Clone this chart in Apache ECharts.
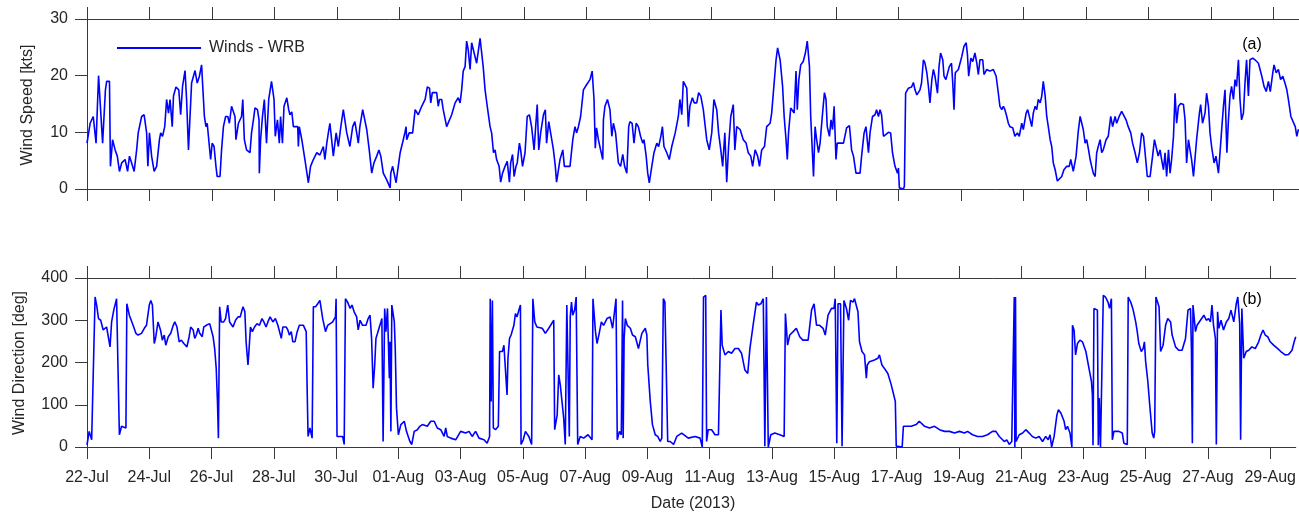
<!DOCTYPE html>
<html><head><meta charset="utf-8">
<script src="https://cdn.jsdelivr.net/npm/echarts@6/dist/echarts.min.js"></script>
<style>html,body{margin:0;padding:0;background:#fff}#c{width:1299px;height:516px}</style>
</head><body><div id="c"></div>
<script>
// x values are days since 22-Jul-2013 00:00
const tickDays = [0,2,4,6,8,10,12,14,16,18,20,22,24,26,28,30,32,34,36,38];
const tickLabels = ['22-Jul','24-Jul','26-Jul','28-Jul','30-Jul','01-Aug','03-Aug','05-Aug','07-Aug','09-Aug','11-Aug','13-Aug','15-Aug','17-Aug','19-Aug','21-Aug','23-Aug','25-Aug','27-Aug','29-Aug'];
const speedTicks = [0,10,20,30];
const dirTicks = [0,100,200,300,400];

const speedDay = [
0,0.10,0.20,0.29,0.37,0.50,0.59,0.63,0.72,0.75,
0.82,0.90,0.97,1.04,1.11,1.22,1.30,1.36,1.43,1.51,
1.59,1.64,1.75,1.83,1.86,1.91,1.95,2.00,2.07,2.15,
2.23,2.32,2.36,2.42,2.49,2.55,2.61,2.66,2.73,2.77,
2.85,2.94,3.00,3.06,3.14,3.19,3.25,3.35,3.46,3.53,
3.60,3.67,3.73,3.76,3.81,3.85,3.92,3.96,4.01,4.07,
4.13,4.17,4.26,4.31,4.37,4.44,4.51,4.56,4.63,4.69,
4.74,4.77,4.85,4.95,4.99,5.04,5.11,5.22,5.27,5.33,
5.38,5.46,5.51,5.52,5.56,5.62,5.68,5.75,5.82,5.91,
5.99,6.03,6.10,6.16,6.20,6.26,6.31,6.40,6.46,6.50,
6.56,6.61,6.75,6.77,6.80,6.88,6.98,7.09,7.16,7.25,
7.36,7.46,7.57,7.62,7.68,7.73,7.78,7.89,7.98,8.05,
8.13,8.21,8.32,8.42,8.51,8.58,8.69,8.74,8.83,8.88,
8.96,9.04,9.12,9.19,9.28,9.35,9.41,9.49,9.60,9.71,
9.73,9.79,9.85,9.90,9.94,10.03,10.13,10.18,10.22,10.24,
10.32,10.43,10.51,10.61,10.72,10.83,10.90,10.97,11.01,11.06,
11.20,11.25,11.29,
11.36,11.41,11.52,11.57,11.68,11.79,11.89,11.95,12.00,12.05,
12.11,12.16,12.21,12.27,12.32,12.40,12.48,12.53,12.59,12.62,
12.69,12.75,12.82,12.91,12.96,13.02,13.07,13.12,13.20,13.25,
13.31,13.39,13.46,13.53,13.57,13.63,13.68,13.74,13.78,13.85,
13.89,13.95,14.03,14.10,14.17,14.24,14.32,14.38,14.42,14.47,
14.53,14.62,14.68,14.72,14.79,14.85,14.94,15.00,15.04,15.15,
15.24,15.29,15.36,15.47,15.56,15.63,15.68,15.74,15.81,15.90,
16.00,16.11,16.18,16.24,16.28,16.32,16.38,16.45,16.52,16.54,
16.59,16.67,16.75,16.81,16.86,16.93,17.02,17.09,17.16,17.22,
17.29,17.35,17.39,17.46,17.52,17.59,17.66,17.73,17.80,17.84,
17.91,17.96,18.01,18.09,18.16,18.25,18.31,18.38,18.43,18.48,
18.57,18.65,18.73,18.84,18.94,18.99,19.05,19.10,19.15,19.21,
19.26,19.31,19.39,19.45,19.53,19.59,19.66,19.74,19.85,19.93,
20.01,20.08,20.17,20.23,20.30,20.36,20.43,20.49,20.55,20.62,
20.70,20.75,20.81,20.92,21.02,21.11,21.18,21.26,21.32,21.40,
21.48,21.54,21.61,21.70,21.77,21.88,21.93,22.00,22.07,22.12,
22.20,22.28,22.33,22.39,22.43,22.47,22.54,22.60,22.65,22.71,
22.75,22.80,22.86,22.94,23.01,23.07,23.14,23.18,23.22,23.27,
23.32,23.37,23.43,23.48,23.56,23.62,23.67,23.71,23.78,23.83,
23.88,23.93,23.99,24.03,24.23,24.33,24.42,24.49,24.55,24.63,
24.76,24.81,24.89,24.95,25.03,
25.08,25.16,25.24,25.29,25.35,25.40,25.45,25.51,25.56,25.67,
25.74,25.80,25.88,25.96,25.99,26.02,26.06,26.15,26.18,26.22,
26.31,26.41,26.47,26.52,26.58,26.63,26.68,26.73,26.79,26.84,
26.90,26.95,27.00,27.06,27.11,27.16,27.24,27.29,27.34,27.41,
27.45,27.51,27.56,27.62,27.69,27.73,27.77,27.81,27.86,27.91,
27.96,28.02,28.09,28.16,28.20,28.24,28.31,28.37,28.44,28.50,
28.55,28.60,28.69,28.73,28.82,28.92,29.03,29.12,29.19,29.24,
29.30,29.35,29.40,29.46,29.51,29.56,29.65,29.72,29.80,29.86,
29.94,29.99,30.08,30.13,30.21,30.26,30.31,30.37,30.42,30.47,
30.53,30.58,30.63,30.69,30.74,30.79,30.85,30.90,30.95,31.01,
31.08,31.14,31.22,31.29,31.38,31.46,31.51,31.59,31.68,31.75,
31.81,31.86,31.91,31.97,32.02,32.08,32.13,32.18,32.23,32.29,
32.34,32.39,32.45,32.50,32.55,32.64,32.71,32.79,32.85,32.93,
32.98,33.06,33.14,33.20,33.28,33.35,33.43,33.49,33.57,33.64,
33.71,33.78,33.84,33.89,33.96,34.05,34.13,34.19,34.24,34.31,
34.37,34.42,34.48,34.53,34.58,34.64,34.69,34.74,34.80,34.85,
34.90,34.96,35.03,35.12,35.17,35.22,35.28,35.33,35.38,35.44,
35.54,35.63,35.67,35.73,35.81,35.86,35.92,35.97,36.02,36.10,
36.16,36.24,36.29,36.35,36.40,36.45,36.51,36.56,36.61,36.66,
36.72,36.77,36.82,36.88,36.93,36.98,37.04,37.09,37.14,37.20,
37.25,37.34,37.41,37.52,37.63,37.70,37.77,37.84,37.90,37.98,
38.02,38.09,38.16,38.23,38.30,38.37,38.43,38.48,38.56,38.62,
38.70,38.75,38.80,38.82
];
const speedKts = [
8.1,11.6,12.8,8.1,20.0,8.1,17.5,19.0,19.0,4.0,
8.7,6.9,5.8,3.1,4.6,5.2,3.1,5.8,4.6,3.1,
6.9,9.9,12.8,13.1,12.8,9.9,4.0,9.9,5.8,3.1,
4.0,8.7,9.9,9.3,11.0,15.8,13.4,15.8,11.0,16.4,
18.0,17.5,13.1,18.1,20.9,15.8,6.9,18.7,20.9,18.7,
19.9,21.9,21.6,12.8,11.0,11.6,7.5,5.2,8.1,7.5,
4.0,2.2,2.2,6.9,11.0,12.8,12.8,11.6,14.6,14.9,
12.8,8.7,11.6,12.8,15.8,8.7,6.9,6.4,9.9,12.2,
14.3,14.0,12.2,2.8,8.7,12.8,15.8,8.1,15.8,19.0,
15.8,9.3,12.2,8.1,12.8,8.1,14.6,16.1,14.0,13.1,
13.6,11.0,11.0,7.5,11.0,8.7,5.2,1.1,4.0,5.2,
6.4,6.0,7.5,5.2,8.1,9.9,11.6,5.8,9.9,7.5,
11.0,14.0,9.9,7.5,11.0,11.9,8.1,11.0,14.0,14.0,
10.5,6.9,2.8,4.6,5.8,6.9,5.8,2.8,1.6,0.2,
2.8,4.0,4.0,1.1,2.8,6.4,8.7,9.9,11.0,8.7,
9.9,9.9,14.0,13.1,14.6,15.8,18.0,17.8,15.2,17.0,
17.0,14.6,15.8,
15.8,14.0,11.0,11.1,13.1,15.2,16.1,15.2,17.5,20.8,
21.6,26.1,24.6,21.1,25.8,24.0,22.2,21.9,26.6,26.8,
21.6,17.5,14.6,11.0,9.9,6.4,6.9,5.2,4.0,1.2,
2.8,4.0,4.9,1.2,4.6,6.1,2.2,4.0,4.6,8.1,
6.9,4.0,6.4,12.8,13.1,11.0,6.9,6.9,14.9,6.9,
9.9,13.1,14.0,8.1,11.9,9.9,6.9,4.0,1.2,5.2,
6.9,4.0,4.0,4.0,8.7,11.0,9.9,11.0,12.8,17.5,
18.4,19.3,20.8,15.8,7.2,10.8,8.7,6.9,5.2,12.2,
14.6,15.8,14.0,9.3,11.6,9.9,4.6,4.0,6.1,4.0,
2.8,11.0,11.9,11.6,8.1,11.6,11.0,9.3,8.1,8.7,
5.8,2.8,1.1,4.0,6.4,8.1,7.5,9.3,11.0,7.5,
6.4,5.2,7.5,9.9,12.8,15.8,13.1,19.0,18.7,17.8,
11.0,14.6,16.1,15.2,15.2,17.0,16.4,14.0,8.7,6.9,
9.9,15.8,14.0,9.9,6.9,4.0,9.9,1.2,7.5,12.8,
14.9,6.9,11.0,10.5,8.7,8.1,6.4,5.8,4.0,6.9,
5.8,4.0,6.9,7.5,11.0,11.6,13.4,18.1,22.8,24.9,
22.8,18.1,12.8,8.7,5.2,9.9,14.3,14.6,13.4,20.8,
14.0,19.3,21.9,22.5,24.0,26.1,21.6,12.8,8.1,2.2,
11.0,8.7,6.4,8.1,13.4,17.0,15.8,11.0,9.3,12.2,
10.5,14.6,5.2,8.1,8.1,10.8,11.2,6.9,5.8,2.8,
2.8,5.8,9.9,11.0,6.4,
9.9,12.8,13.1,14.0,12.8,14.0,13.1,9.3,9.0,10.0,
9.9,6.4,4.0,2.8,3.7,0.2,0,0,0.5,16.9,
17.8,18.0,18.8,17.5,16.6,16.4,17.5,18.7,22.8,22.2,
20.5,18.1,15.2,19.3,21.1,19.9,16.9,21.6,24.0,22.8,
19.9,19.3,19.6,21.6,22.2,18.7,14.0,20.5,20.2,21.1,
21.4,23.4,25.2,25.8,23.7,19.9,23.1,22.5,24.0,22.2,
20.2,22.8,22.8,20.2,21.1,20.8,21.1,19.9,16.9,14.6,
14.0,14.6,14.0,12.8,11.6,11.0,10.8,9.3,9.9,9.3,
11.6,10.5,13.4,14.0,12.2,11.0,13.4,14.6,14.0,15.8,
15.2,16.4,19.0,16.4,12.8,11.0,8.7,7.5,4.6,3.4,
1.4,1.1,2.2,3.4,4.0,4.0,5.2,3.1,5.8,10.2,
12.8,12.5,10.5,8.1,8.7,6.9,5.2,4.0,2.8,2.2,
6.4,7.5,8.7,6.4,6.9,8.7,9.3,12.8,11.0,12.8,
11.6,12.8,13.7,14.0,12.2,11.0,9.9,8.1,6.4,4.6,
6.4,9.9,9.3,6.4,2.2,2.2,5.8,8.7,7.5,5.8,
6.9,5.2,3.4,6.4,2.2,6.9,2.8,5.2,9.3,16.9,
11.6,14.6,15.1,14.9,12.2,4.6,8.7,6.9,5.2,2.2,
8.7,13.4,14.9,11.6,13.4,16.9,14.6,9.9,7.5,4.6,
5.8,2.8,6.4,11.0,14.6,17.5,6.4,12.2,16.4,18.1,
15.8,19.3,18.1,22.8,15.8,12.2,13.4,18.7,22.8,16.4,
22.8,23.1,22.8,22.2,19.9,18.1,17.2,19.0,17.2,20.5,
21.9,20.5,21.1,19.3,19.9,18.7,17.5,15.8,12.8,13.1,
11.0,9.3,10.5,10.2
];

const dirDay = [
0.00,0.07,0.15,0.20,0.26,0.31,0.37,0.44,0.47,0.52,
0.63,0.68,0.74,0.79,0.86,0.95,1.00,1.04,1.11,1.16,
1.25,1.28,1.36,1.41,1.48,1.57,1.64,1.75,1.84,1.91,
2.00,2.05,2.10,2.16,2.21,2.28,2.36,2.42,2.48,2.53,
2.61,2.69,2.77,2.82,2.89,2.96,3.03,3.11,3.17,3.21,
3.28,3.33,3.41,3.46,3.51,3.57,3.62,3.70,3.75,3.83,
3.94,3.99,4.05,4.10,4.15,4.19,4.22,4.26,4.31,4.39,
4.45,4.52,4.58,4.69,4.77,4.85,4.92,5.01,5.07,5.11,
5.17,5.20,5.25,5.31,5.38,5.46,5.54,5.62,5.68,5.75,
5.81,5.88,5.97,6.05,6.13,6.18,6.24,6.29,6.34,6.40,
6.45,6.50,6.56,6.61,6.68,6.75,6.82,6.95,7.04,7.07,
7.10,7.16,7.23,7.27,7.34,7.41,7.48,7.57,7.66,7.73,
7.89,7.98,8.00,8.03,8.21,8.26,8.30,8.37,8.45,8.51,
8.58,8.66,8.71,8.77,8.85,8.96,9.03,9.09,9.14,9.19,
9.24,9.28,9.33,9.39,9.44,9.47,9.51,9.56,9.60,9.65,
9.71,9.73,9.76,9.79,9.87,9.90,9.94,9.97,10.00,10.08,
10.19,10.26,10.37,10.43,10.51,10.61,10.69,10.77,10.93,11.04,
11.15,11.25,
11.36,11.47,11.52,11.57,11.68,11.84,12.00,12.16,12.27,12.37,
12.48,12.59,12.75,12.85,12.93,12.95,12.98,13.02,13.05,13.12,
13.21,13.25,13.28,13.34,13.39,13.44,13.49,13.52,13.57,13.62,
13.71,13.76,13.81,13.87,13.92,13.94,14.01,14.08,14.19,14.28,
14.32,14.38,14.45,14.62,14.72,14.83,14.99,15.02,15.10,15.15,
15.20,15.31,15.36,15.41,15.45,15.49,15.52,15.56,15.60,15.66,
15.71,15.76,15.84,15.95,16.09,16.22,16.25,16.33,16.38,16.45,
16.52,16.59,16.70,16.80,16.88,16.91,16.99,17.03,17.10,17.16,
17.20,17.22,17.25,17.29,17.35,17.45,17.52,17.61,17.71,17.82,
17.93,17.98,18.01,18.09,18.16,18.25,18.33,18.41,18.46,18.51,
18.56,18.62,18.65,18.73,18.84,18.94,19.10,19.31,19.53,19.69,
19.76,19.80,19.87,19.90,19.95,20.06,20.17,20.28,20.33,20.36,
20.40,20.49,20.60,20.70,20.81,20.92,21.02,21.13,21.22,21.29,
21.40,21.50,21.56,21.64,21.72,21.77,21.82,21.88,21.96,22.09,
22.25,22.39,22.43,22.50,22.57,22.68,22.78,22.89,22.99,23.16,
23.27,23.35,23.43,23.53,23.64,23.71,23.80,23.91,23.99,24.03,
24.08,24.12,24.20,24.25,24.31,24.39,24.46,24.52,24.60,24.65,
24.76,24.81,24.89,24.97,25.03,25.06,25.13,25.29,25.40,25.45,
25.53,25.61,25.72,25.83,25.91,25.96,25.99,26.04,26.18,26.22,
26.31,26.47,26.63,26.73,26.90,27.06,27.22,27.38,27.54,27.70,
27.86,28.02,28.18,28.28,28.44,28.60,28.76,28.92,29.08,29.19,
29.30,29.46,29.54,29.62,29.70,29.78,29.80,29.82,29.84,29.94,
30.05,30.15,30.26,30.36,30.47,30.58,30.69,30.79,30.87,30.93,
30.98,31.06,31.15,31.20,31.28,31.38,31.43,31.49,31.57,31.63,
31.65,31.70,31.75,31.81,31.89,31.97,32.08,32.18,32.26,32.29,
32.31,32.34,32.39,32.45,32.48,32.51,32.55,32.61,32.64,32.71,
32.79,32.84,32.90,32.93,32.98,33.14,33.25,33.30,33.41,33.44,
33.52,33.60,33.68,33.73,33.78,33.86,33.92,33.96,34.00,34.07,
34.13,34.21,34.26,34.29,34.33,34.39,34.43,34.48,34.56,34.64,
34.71,34.80,34.85,34.96,35.06,35.17,35.28,35.36,35.44,35.47,
35.50,35.52,35.60,35.65,35.76,35.87,35.95,36.02,36.08,36.13,
36.18,36.24,36.27,36.31,36.35,36.42,36.50,36.59,36.67,36.74,
36.83,36.91,36.96,37.02,37.05,37.09,37.15,37.23,37.31,37.41,
37.52,37.63,37.70,37.77,37.84,37.92,38.00,38.11,38.24,38.34,
38.48,38.59,38.70,38.77,38.82
];
const dirDeg = [
5,37,17,13,355,336,304,300,296,277,
284,281,237,296,324,351,351,29,49,53,
45,339,312,308,288,269,265,269,281,288,
336,347,336,245,261,296,277,253,265,241,
261,269,288,296,284,249,253,245,245,237,
261,284,277,257,265,281,269,261,284,288,
292,288,261,233,186,108,21,332,296,296,
304,336,296,284,300,308,308,332,320,249,
194,226,284,273,284,292,288,304,296,284,
296,308,296,304,288,284,257,284,288,284,
277,265,273,249,249,273,288,288,273,139,
25,45,21,332,332,339,347,304,273,288,
296,308,351,25,25,6,351,343,328,336,
320,308,277,300,288,288,304,312,257,139,
194,257,269,284,296,304,13,328,273,328,
163,249,37,336,296,233,92,61,29,53,
61,37,13,6,37,41,49,53,49,61,
61,45,
41,25,45,25,21,17,37,33,37,25,
37,21,17,9,25,351,108,347,45,41,
49,226,229,226,241,245,123,210,257,265,
288,316,308,324,336,6,17,37,25,6,
351,296,284,281,269,281,300,41,76,171,
147,68,6,336,332,25,308,343,312,324,
355,6,25,21,29,17,351,273,245,269,
296,288,304,308,281,300,351,17,37,29,
347,21,257,304,288,281,265,261,233,269,
281,265,194,108,53,29,25,13,21,351,
343,343,13,13,6,25,33,21,25,21,
0,355,359,13,41,41,29,29,25,324,
241,218,226,222,233,233,222,182,174,233,
292,343,336,339,351,2,355,0,29,33,
29,25,316,241,265,273,281,261,253,253,
324,339,288,288,281,265,312,328,328,351,
9,339,339,2,347,328,300,347,343,351,
320,249,226,218,163,194,202,206,210,218,
194,186,174,147,123,108,2,0,0,49,
49,49,53,61,49,45,49,41,37,37,
33,37,33,37,29,25,25,29,37,37,
25,13,17,6,13,355,0,355,13,29,
33,41,33,25,21,25,13,25,17,29,
0,25,76,88,80,61,41,49,33,0,
288,277,218,245,253,249,226,186,155,123,
4,328,332,324,4,116,0,0,359,355,
343,328,351,17,37,37,33,9,6,355,
343,324,296,273,245,226,233,249,202,155,
100,33,21,37,355,355,332,226,241,288,
304,296,265,237,229,229,257,324,328,233,
9,336,273,288,300,312,300,304,296,336,
288,257,6,320,281,300,277,296,304,324,
296,339,355,292,17,328,210,226,229,237,
233,249,265,277,265,261,249,241,233,226,
218,219,229,249,261
];

const X_MAX = 38.82;
const AX = '#3a3a3a';
const TXT = '#262626';
const FONT = '"Liberation Sans", Arial, Helvetica, sans-serif';
const LINE = '#0000ff';

function zip(a, b) { const n = Math.min(a.length, b.length); const out = []; for (let i = 0; i < n; i++) out.push([a[i], b[i]]); return out; }

function xAxisDef(grid, pos, showLabels) {
  return {
    type: 'value', gridIndex: grid, position: pos, min: 0, max: X_MAX, interval: 2,
    axisLine: { show: true, onZero: false, lineStyle: { color: AX, width: 1 } },
    axisTick: { show: true, inside: false, length: 12, customValues: tickDays, lineStyle: { color: AX, width: 1 } },
    axisLabel: { show: showLabels, customValues: tickDays, margin: 23, fontSize: 16, color: TXT, fontFamily: FONT,
      formatter: v => { const i = Math.round(v / 2); return (Math.abs(v - i * 2) < 1e-6 && tickLabels[i]) ? tickLabels[i] : ''; } },
    splitLine: { show: false }
  };
}
function yAxisDef(grid, max, interval, ticks) {
  return {
    type: 'value', gridIndex: grid, min: 0, max: max, interval: interval,
    axisLine: { show: true, lineStyle: { color: AX, width: 1 } },
    axisTick: { show: true, inside: false, length: 12, customValues: ticks, lineStyle: { color: AX, width: 1 } },
    axisLabel: { margin: 19, fontSize: 16, color: TXT, fontFamily: FONT, customValues: ticks },
    splitLine: { show: false }
  };
}

const chart = echarts.init(document.getElementById('c'), null, { renderer: 'canvas' });
chart.setOption({
  animation: false,
  backgroundColor: '#ffffff',
  grid: [
    { left: 87, right: 0, top: 19, height: 170 },
    { left: 87, right: 0, top: 278, height: 169 }
  ],
  xAxis: [
    xAxisDef(0, 'bottom', false),
    xAxisDef(0, 'top', false),
    xAxisDef(1, 'bottom', true),
    xAxisDef(1, 'top', false)
  ],
  yAxis: [
    yAxisDef(0, 30, 10, speedTicks),
    yAxisDef(1, 400, 100, dirTicks)
  ],
  legend: {
    data: ['Winds - WRB'], left: 117, top: 40, padding: 0,
    icon: 'rect', itemWidth: 84, itemHeight: 2,
    textStyle: { fontSize: 16, color: TXT, fontFamily: FONT, padding: [0, 0, 0, 3] },
    selectedMode: false
  },
  series: [
    { name: 'Winds - WRB', type: 'line', xAxisIndex: 0, yAxisIndex: 0, data: zip(speedDay, speedKts),
      showSymbol: false, symbol: 'none', lineStyle: { color: LINE, width: 1.6 }, itemStyle: { color: LINE } },
    { name: 'Winds - WRB', type: 'line', xAxisIndex: 2, yAxisIndex: 1, data: zip(dirDay, dirDeg),
      showSymbol: false, symbol: 'none', lineStyle: { color: LINE, width: 1.6 }, itemStyle: { color: LINE } }
  ],
  graphic: [
    { type: 'text', x: 28, y: 105, rotation: Math.PI / 2, z: 100,
      style: { text: 'Wind Speed [kts]', fontSize: 16, fontFamily: FONT, fill: TXT, align: 'center', verticalAlign: 'middle' } },
    { type: 'text', x: 20, y: 363, rotation: Math.PI / 2, z: 100,
      style: { text: 'Wind Direction [deg]', fontSize: 16, fontFamily: FONT, fill: TXT, align: 'center', verticalAlign: 'middle' } },
    { type: 'text', x: 693, y: 504, z: 100,
      style: { text: 'Date (2013)', fontSize: 16, fontFamily: FONT, fill: TXT, align: 'center', verticalAlign: 'middle' } },
    { type: 'text', x: 1252, y: 45, z: 100,
      style: { text: '(a)', fontSize: 16, fontFamily: FONT, fill: '#000', align: 'center', verticalAlign: 'middle' } },
    { type: 'text', x: 1252, y: 300, z: 100,
      style: { text: '(b)', fontSize: 16, fontFamily: FONT, fill: '#000', align: 'center', verticalAlign: 'middle' } }
  ]
});
</script>
</body></html>
